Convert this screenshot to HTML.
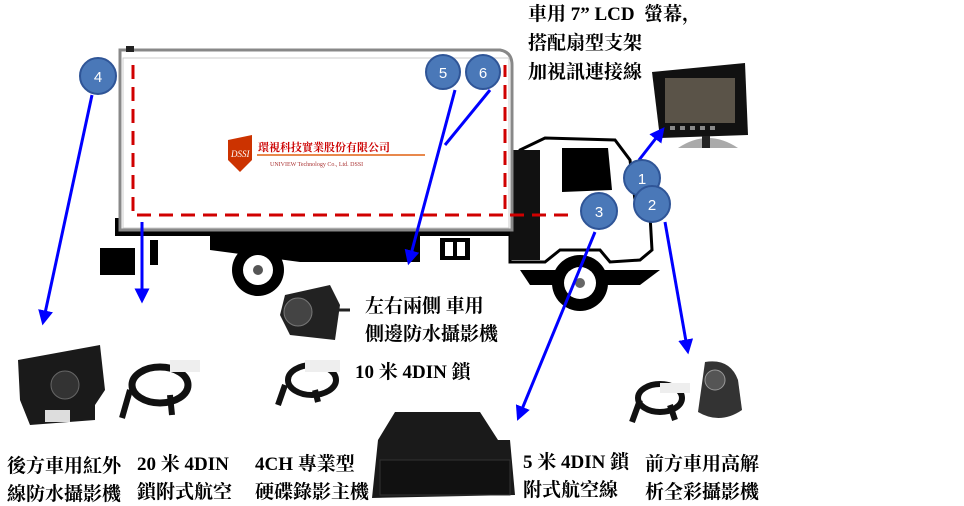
<!DOCTYPE html>
<html><head><meta charset="utf-8"><style>
body{margin:0;width:964px;height:505px;background:#fff;overflow:hidden;position:relative;font-family:"Liberation Serif","Noto Serif CJK SC","Noto Sans CJK TC",serif;}
.t{position:absolute;font-size:19px;font-weight:bold;color:#000;white-space:nowrap;line-height:22px;}
svg{position:absolute;left:0;top:0;}
</style></head><body>
<svg width="964" height="505" viewBox="0 0 964 505">
<defs><marker id="ah" markerWidth="5" markerHeight="5" refX="2.5" refY="2.5" orient="auto" markerUnits="strokeWidth"><path d="M0,0 L5,2.5 L0,5 z" fill="#0000ff"/></marker></defs>
<rect x="115" y="218" width="420" height="18" fill="#000"/>
<path d="M100,248 L135,248 L135,275 L100,275 z" fill="#000"/>
<path d="M210,236 L420,236 L420,262 L300,262 L210,250 z" fill="#000"/>
<rect x="150" y="240" width="8" height="25" fill="#000"/>
<rect x="440" y="238" width="30" height="22" fill="#000"/>
<rect x="445" y="242" width="8" height="14" fill="#fff"/><rect x="457" y="242" width="8" height="14" fill="#fff"/>
<circle cx="258" cy="270" r="26" fill="#000"/><circle cx="258" cy="270" r="15" fill="#fff"/><circle cx="258" cy="270" r="5" fill="#555"/>
<path d="M510,215 L520,150 L545,138 L615,140 L630,160 L635,200 L650,215 L652,250 L640,260 L610,262 L600,250 L560,250 L545,262 L510,262 z" fill="#fff" stroke="#000" stroke-width="3"/>
<rect x="510" y="150" width="30" height="110" fill="#111"/>
<path d="M562,148 L608,148 L612,190 L562,192 z" fill="#000"/>
<path d="M520,270 L660,270 L640,285 L530,285 z" fill="#000"/>
<circle cx="580" cy="283" r="28" fill="#000"/><circle cx="580" cy="283" r="16" fill="#fff"/><circle cx="580" cy="283" r="5" fill="#666"/>
<path d="M120,50 L500,50 Q512,52 512,65 L512,230 L120,230 z" fill="#fff" stroke="#888" stroke-width="3"/>
<rect x="123" y="58" width="386" height="170" fill="#fff" stroke="#ccc" stroke-width="1"/>
<rect x="126" y="46" width="8" height="6" fill="#222"/>
<path d="M133,65 L133,215 L505,215 L505,65" fill="none" stroke="#d00000" stroke-width="3" stroke-dasharray="14,8"/>
<line x1="510" y1="215" x2="575" y2="215" stroke="#d00000" stroke-width="3" stroke-dasharray="14,8"/>
<path d="M228,140 L252,135 L252,160 L240,172 L228,160 z" fill="#cc3300"/>
<text x="231" y="157" font-size="9" fill="#fff" font-style="italic">DSSI</text>
<line x1="257" y1="155" x2="425" y2="155" stroke="#e06010" stroke-width="1.5"/>
<text x="258" y="151" font-size="11" font-weight="bold" fill="#c00">環視科技實業股份有限公司</text>
<text x="270" y="166" font-size="6" fill="#a33">UNIVIEW Technology Co., Ltd. DSSI</text>
<path d="M652,72 L745,63 L748,135 L660,138 z" fill="#111"/>
<rect x="665" y="78" width="70" height="45" fill="#5a5348"/>
<g fill="#888"><rect x="670" y="126" width="5" height="4"/><rect x="680" y="126" width="5" height="4"/><rect x="690" y="126" width="5" height="4"/><rect x="700" y="126" width="5" height="4"/><rect x="710" y="126" width="5" height="4"/></g>
<path d="M678,148 Q708,128 738,148 z" fill="#aaa"/><rect x="702" y="136" width="8" height="12" fill="#222"/>
<path d="M18,360 L100,345 L105,390 L95,405 L95,420 L30,425 L20,400 z" fill="#1a1a1a"/>
<circle cx="65" cy="385" r="14" fill="#333" stroke="#666"/><rect x="45" y="410" width="25" height="12" fill="#ddd"/>
<ellipse cx="160" cy="385" rx="28" ry="18" fill="none" stroke="#111" stroke-width="7"/>
<path d="M130,390 L122,418 M170,395 L172,415" stroke="#111" stroke-width="6"/>
<rect x="170" y="360" width="30" height="12" fill="#eee"/>
<path d="M285,295 L330,285 L340,305 L335,340 L290,335 L280,315 z" fill="#222"/>
<circle cx="298" cy="312" r="14" fill="#444" stroke="#777"/>
<line x1="338" y1="310" x2="350" y2="310" stroke="#222" stroke-width="3"/>
<ellipse cx="312" cy="380" rx="24" ry="15" fill="none" stroke="#111" stroke-width="6"/>
<path d="M285,385 L278,405 M315,390 L318,402" stroke="#111" stroke-width="6"/>
<rect x="305" y="360" width="35" height="12" fill="#eee"/>
<path d="M395,412 L480,412 L498,440 L510,440 L515,495 L372,498 L378,440 z" fill="#1a1a1a"/>
<rect x="380" y="460" width="130" height="35" fill="#111" stroke="#333"/>
<ellipse cx="660" cy="398" rx="22" ry="14" fill="none" stroke="#111" stroke-width="6"/>
<path d="M640,400 L632,422 M670,405 L675,420" stroke="#111" stroke-width="6"/>
<rect x="660" y="383" width="30" height="10" fill="#eee"/>
<path d="M705,362 Q730,358 738,380 L742,410 Q720,425 698,412 Z" fill="#333"/>
<circle cx="715" cy="380" r="10" fill="#555" stroke="#999"/>
<g stroke="#0000ff" stroke-width="3" fill="none" marker-end="url(#ah)">
<line x1="92" y1="95" x2="44" y2="318"/>
<line x1="142" y1="222" x2="142" y2="296"/>
<line x1="455" y1="90" x2="410" y2="258"/>
<line x1="639" y1="160" x2="660" y2="133"/>
<line x1="665" y1="222" x2="687" y2="347"/>
<line x1="595" y1="232" x2="520" y2="414"/>
</g>
<line x1="490" y1="90" x2="445" y2="145" stroke="#0000ff" stroke-width="3"/>
<g fill="#4a78b8" stroke="#2f5597" stroke-width="2">
<circle cx="98" cy="76" r="18"/><circle cx="443" cy="72" r="17"/><circle cx="483" cy="72" r="17"/>
<circle cx="642" cy="178" r="18"/><circle cx="652" cy="204" r="18"/><circle cx="599" cy="211" r="18"/>
</g>
<g fill="#fff" font-family="Liberation Sans,sans-serif" font-size="15" text-anchor="middle">
<text x="98" y="82">4</text><text x="443" y="78">5</text><text x="483" y="78">6</text>
<text x="642" y="184">1</text><text x="652" y="210">2</text><text x="599" y="217">3</text>
</g>
</svg>
<div class="t" style="left:528px;top:4px">車用 7” LCD&nbsp; 螢幕，</div>
<div class="t" style="left:528px;top:33px">搭配扇型支架</div>
<div class="t" style="left:528px;top:62px">加視訊連接線</div>
<div class="t" style="left:365px;top:296px">左右兩側 車用</div>
<div class="t" style="left:365px;top:324px">側邊防水攝影機</div>
<div class="t" style="left:355px;top:362px">10 米 4DIN 鎖</div>
<div class="t" style="left:7px;top:456px">後方車用紅外</div>
<div class="t" style="left:7px;top:484px">線防水攝影機</div>
<div class="t" style="left:137px;top:454px">20 米 4DIN</div>
<div class="t" style="left:137px;top:482px">鎖附式航空</div>
<div class="t" style="left:255px;top:454px">4CH 專業型</div>
<div class="t" style="left:255px;top:482px">硬碟錄影主機</div>
<div class="t" style="left:523px;top:452px">5 米 4DIN 鎖</div>
<div class="t" style="left:523px;top:480px">附式航空線</div>
<div class="t" style="left:645px;top:454px">前方車用高解</div>
<div class="t" style="left:645px;top:482px">析全彩攝影機</div>
</body></html>
